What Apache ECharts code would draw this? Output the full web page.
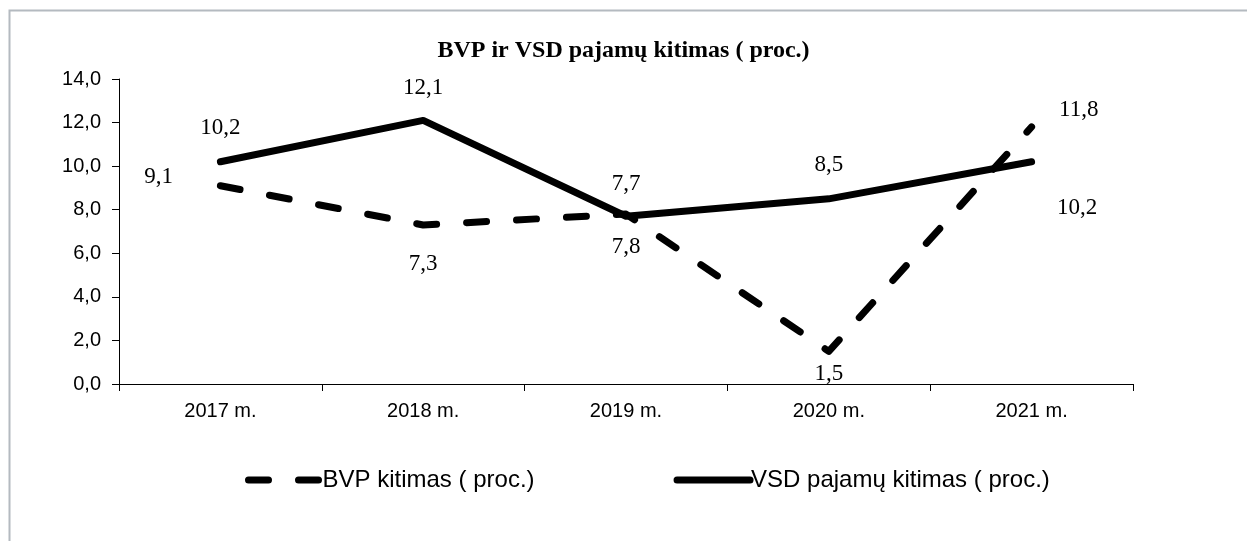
<!DOCTYPE html>
<html>
<head>
<meta charset="utf-8">
<script src="https://cdn.jsdelivr.net/npm/echarts@6/dist/echarts.min.js"></script>
<style>
  html, body { margin: 0; padding: 0; background: #fff; }
  #chart { width: 1247px; height: 541px; }
</style>
</head>
<body>
<div id="chart"></div>
<script>
var years = ['2017 m.', '2018 m.', '2019 m.', '2020 m.', '2021 m.']
var bvpName = 'BVP kitimas ( proc.)'
var vsdName = 'VSD pajamų kitimas ( proc.)'
var bvpValues = [9.1, 7.3, 7.8, 1.5, 11.8]
var vsdValues = [10.2, 12.1, 7.7, 8.5, 10.2]

// label placement per point (layout only)
var bvpLabelPos = [
  { position: 'left', offset: [-42, -9] },
  { position: 'bottom', distance: 27 },
  { position: 'bottom', distance: 21 },
  { position: 'bottom', distance: 11 },
  { position: 'right', offset: [22, -17] }
]
var vsdLabelPos = [
  { position: 'top', distance: 22 },
  { position: 'top', distance: 20 },
  { position: 'top', distance: 20 },
  { position: 'top', distance: 22 },
  { position: 'right', offset: [20, 46] }
]

function fmt (v) {
  return v.toFixed(1).replace('.', ',')
}

function buildData (values, placement) {
  return values.map(function (v, i) {
    return { value: v, label: placement[i] }
  })
}

var myChart = echarts.init(document.getElementById('chart'))

var labelStyle = {
  show: true,
  fontFamily: '"Liberation Serif", "Times New Roman", serif',
  fontSize: 23,
  color: '#000',
  formatter: function (p) { return fmt(p.value) }
}

var option = {
  backgroundColor: '#fff',
  animation: false,
  graphic: [{
    type: 'rect',
    shape: { x: 9.5, y: 10.5, width: 1300, height: 600 },
    style: { fill: 'none', stroke: '#b4bac0', lineWidth: 2 }
  }],
  title: {
    text: 'BVP ir VSD pajamų kitimas ( proc.)',
    left: 'center',
    top: 34,
    textStyle: {
      fontFamily: '"Liberation Serif", "Times New Roman", serif',
      fontSize: 24,
      fontWeight: 'bold',
      color: '#000'
    }
  },
  legend: {
    top: 463,
    left: 240,
    itemGap: 139,
    itemWidth: 73,
    itemHeight: 14,
    lineStyle: { width: 7, cap: 'round' },
    itemStyle: { opacity: 0 },
    textStyle: {
      fontFamily: '"Liberation Sans", Arial, sans-serif',
      fontSize: 24,
      color: '#000',
      padding: [0, 0, 0, -4]
    },
    data: [bvpName, vsdName]
  },
  grid: {
    left: 119,
    right: 114,
    top: 79,
    bottom: 157
  },
  xAxis: {
    type: 'category',
    data: years,
    boundaryGap: true,
    axisLine: { lineStyle: { color: '#000', width: 1 } },
    axisTick: { show: true, length: 7, lineStyle: { color: '#000' } },
    axisLabel: {
      fontFamily: '"Liberation Sans", Arial, sans-serif',
      fontSize: 20,
      color: '#000',
      margin: 17
    }
  },
  yAxis: {
    type: 'value',
    min: 0,
    max: 14,
    interval: 2,
    axisLine: { show: true, lineStyle: { color: '#000', width: 1 } },
    axisTick: { show: true, length: 7, inside: false, lineStyle: { color: '#000' } },
    splitLine: { show: false },
    axisLabel: {
      fontFamily: '"Liberation Sans", Arial, sans-serif',
      fontSize: 20,
      color: '#000',
      margin: 18,
      formatter: function (v) { return fmt(v) }
    }
  },
  series: [
    {
      name: bvpName,
      type: 'line',
      data: buildData(bvpValues, bvpLabelPos),
      showSymbol: true,
      symbol: 'circle',
      symbolSize: 1,
      lineStyle: { color: '#000', width: 7, type: [20, 30], cap: 'round', join: 'round' },
      itemStyle: { color: '#000' },
      label: labelStyle,
      z: 3
    },
    {
      name: vsdName,
      type: 'line',
      data: buildData(vsdValues, vsdLabelPos),
      showSymbol: true,
      symbol: 'circle',
      symbolSize: 1,
      lineStyle: { color: '#000', width: 7, type: 'solid', cap: 'round', join: 'round' },
      itemStyle: { color: '#000' },
      label: labelStyle,
      z: 2
    }
  ]
}
myChart.setOption(option)
</script>
</body>
</html>
